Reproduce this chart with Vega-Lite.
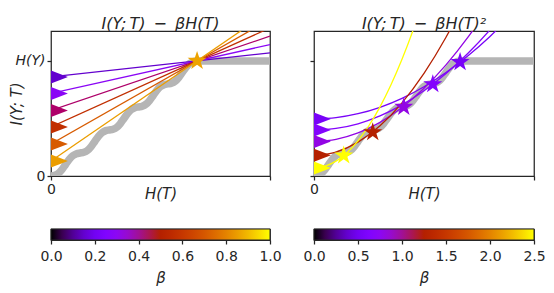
{
  "$schema": "https://vega.github.io/schema/vega-lite/v6.json",
  "padding": {"left": 8, "top": 15, "right": 5, "bottom": 5},
  "spacing": 20,
  "resolve": {"scale": {"color": "independent"}},
  "datasets": {
    "gray": [
      {"h": 0, "i": 0}, {"h": 0.0167, "i": 0.0059}, {"h": 0.0333, "i": 0.0229}, {"h": 0.05, "i": 0.0559},
      {"h": 0.0667, "i": 0.1}, {"h": 0.0833, "i": 0.1441}, {"h": 0.1, "i": 0.1771}, {"h": 0.1167, "i": 0.1941},
      {"h": 0.1333, "i": 0.2}, {"h": 0.15, "i": 0.2059}, {"h": 0.1667, "i": 0.2229}, {"h": 0.1833, "i": 0.2559},
      {"h": 0.2, "i": 0.3}, {"h": 0.2167, "i": 0.3441}, {"h": 0.2333, "i": 0.3771}, {"h": 0.25, "i": 0.3941},
      {"h": 0.2667, "i": 0.4}, {"h": 0.2833, "i": 0.4059}, {"h": 0.3, "i": 0.4229}, {"h": 0.3167, "i": 0.4559},
      {"h": 0.3333, "i": 0.5}, {"h": 0.35, "i": 0.5441}, {"h": 0.3667, "i": 0.5771}, {"h": 0.3833, "i": 0.5941},
      {"h": 0.4, "i": 0.6}, {"h": 0.4167, "i": 0.6059}, {"h": 0.4333, "i": 0.6229}, {"h": 0.45, "i": 0.6559},
      {"h": 0.4667, "i": 0.7}, {"h": 0.4833, "i": 0.7441}, {"h": 0.5, "i": 0.7771}, {"h": 0.5167, "i": 0.7941},
      {"h": 0.5333, "i": 0.8}, {"h": 0.55, "i": 0.8059}, {"h": 0.5667, "i": 0.8229}, {"h": 0.5833, "i": 0.8559},
      {"h": 0.6, "i": 0.9}, {"h": 0.6167, "i": 0.9441}, {"h": 0.6333, "i": 0.9771}, {"h": 0.65, "i": 0.9941},
      {"h": 0.6667, "i": 1.0}, {"h": 0.8, "i": 1.0}, {"h": 1.0, "i": 1.0}
    ],
    "leftLines": [
      {"beta": 0.15, "h": 0, "i": 0.861}, {"beta": 0.15, "h": 1, "i": 1.0695},
      {"beta": 0.29, "h": 0, "i": 0.717}, {"beta": 0.29, "h": 1, "i": 1.1415},
      {"beta": 0.43, "h": 0, "i": 0.570}, {"beta": 0.43, "h": 1, "i": 1.215},
      {"beta": 0.57, "h": 0, "i": 0.426}, {"beta": 0.57, "h": 1, "i": 1.287},
      {"beta": 0.71, "h": 0, "i": 0.278}, {"beta": 0.71, "h": 1, "i": 1.361},
      {"beta": 0.85, "h": 0, "i": 0.130}, {"beta": 0.85, "h": 1, "i": 1.435}
    ],
    "leftTri": [
      {"beta": 0.15, "h": 0, "i": 0.861}, {"beta": 0.29, "h": 0, "i": 0.717}, {"beta": 0.43, "h": 0, "i": 0.570},
      {"beta": 0.57, "h": 0, "i": 0.426}, {"beta": 0.71, "h": 0, "i": 0.278}, {"beta": 0.85, "h": 0, "i": 0.130}
    ],
    "leftStar": [{"beta": 0.86, "h": 0.667, "i": 1.0}],
    "rightCurves": [
      {"beta": 0.55, "h": 0, "i": 0.496}, {"beta": 0.55, "h": 0.1, "i": 0.507}, {"beta": 0.55, "h": 0.2, "i": 0.541},
      {"beta": 0.55, "h": 0.3, "i": 0.597}, {"beta": 0.55, "h": 0.4, "i": 0.675}, {"beta": 0.55, "h": 0.5, "i": 0.776},
      {"beta": 0.55, "h": 0.6, "i": 0.899}, {"beta": 0.55, "h": 0.7, "i": 1.045}, {"beta": 0.55, "h": 0.8, "i": 1.213},
      {"beta": 0.55, "h": 0.9, "i": 1.403},
      {"beta": 0.65, "h": 0, "i": 0.40}, {"beta": 0.65, "h": 0.1, "i": 0.414}, {"beta": 0.65, "h": 0.2, "i": 0.454},
      {"beta": 0.65, "h": 0.3, "i": 0.522}, {"beta": 0.65, "h": 0.4, "i": 0.618}, {"beta": 0.65, "h": 0.5, "i": 0.74},
      {"beta": 0.65, "h": 0.6, "i": 0.89}, {"beta": 0.65, "h": 0.7, "i": 1.066}, {"beta": 0.65, "h": 0.8, "i": 1.27},
      {"beta": 0.65, "h": 0.9, "i": 1.502},
      {"beta": 0.8, "h": 0, "i": 0.30}, {"beta": 0.8, "h": 0.1, "i": 0.3185}, {"beta": 0.8, "h": 0.2, "i": 0.374},
      {"beta": 0.8, "h": 0.3, "i": 0.4665}, {"beta": 0.8, "h": 0.4, "i": 0.596}, {"beta": 0.8, "h": 0.5, "i": 0.7625},
      {"beta": 0.8, "h": 0.6, "i": 0.966}, {"beta": 0.8, "h": 0.7, "i": 1.2065}, {"beta": 0.8, "h": 0.8, "i": 1.484},
      {"beta": 1.25, "h": 0, "i": 0.18}, {"beta": 1.25, "h": 0.1, "i": 0.2085}, {"beta": 1.25, "h": 0.2, "i": 0.294},
      {"beta": 1.25, "h": 0.3, "i": 0.4365}, {"beta": 1.25, "h": 0.4, "i": 0.636}, {"beta": 1.25, "h": 0.5, "i": 0.8925},
      {"beta": 1.25, "h": 0.6, "i": 1.206}, {"beta": 1.25, "h": 0.7, "i": 1.5765},
      {"beta": 2.5, "h": 0, "i": 0.07}, {"beta": 2.5, "h": 0.05, "i": 0.0848}, {"beta": 2.5, "h": 0.1, "i": 0.129},
      {"beta": 2.5, "h": 0.15, "i": 0.2028}, {"beta": 2.5, "h": 0.2, "i": 0.306}, {"beta": 2.5, "h": 0.25, "i": 0.4388},
      {"beta": 2.5, "h": 0.3, "i": 0.601}, {"beta": 2.5, "h": 0.35, "i": 0.7928}, {"beta": 2.5, "h": 0.4, "i": 1.014},
      {"beta": 2.5, "h": 0.45, "i": 1.2648}, {"beta": 2.5, "h": 0.5, "i": 1.545}
    ],
    "rightTri": [
      {"beta": 0.55, "h": 0, "i": 0.496}, {"beta": 0.65, "h": 0, "i": 0.40}, {"beta": 0.8, "h": 0, "i": 0.30},
      {"beta": 1.25, "h": 0, "i": 0.18}, {"beta": 2.5, "h": 0, "i": 0.07}
    ],
    "rightStars": [
      {"beta": 2.5, "h": 0.135, "i": 0.178}, {"beta": 1.25, "h": 0.267, "i": 0.38}, {"beta": 0.8, "h": 0.408, "i": 0.6},
      {"beta": 0.65, "h": 0.54, "i": 0.797}, {"beta": 0.55, "h": 0.664, "i": 0.99}
    ],
    "barLeft": [{"lo": 0, "hi": 1, "b": 0, "t": 1}],
    "barRight": [{"lo": 0, "hi": 2.5, "b": 0, "t": 1}]
  },
  "hconcat": [
    {
      "spacing": 25,
      "vconcat": [
        {
          "width": 219, "height": 145,
          "title": {"text": "I(Y;\u2009T)\u2002−\u2002βH(T)"},
          "layer": [
            {
              "data": {"name": "gray"},
              "mark": {"type": "line", "color": "#b5b5b5", "strokeWidth": 7.5, "clip": true, "interpolate": "monotone"},
              "encoding": {
                "x": {"field": "h", "type": "quantitative", "scale": {"domain": [0, 1], "nice": false},
                  "axis": {"values": [0, 1], "labelExpr": "datum.value == 0 ? '0' : ''", "title": "H(T)", "titleY": 22, "titleBaseline": "alphabetic"}},
                "y": {"field": "i", "type": "quantitative", "scale": {"domain": [0, 1.26], "nice": false},
                  "axis": {"values": [0, 1], "labelExpr": "datum.value == 0 ? '0' : 'H(Y)'",
                    "labelFontStyle": {"condition": {"test": "datum.value == 0", "value": "normal"}, "value": "italic"},
                    "title": "I(Y; T)", "titleX": -30, "titleBaseline": "alphabetic"}}
              }
            },
            {
              "data": {"name": "leftLines"},
              "mark": {"type": "line", "strokeWidth": 1.3, "clip": true},
              "encoding": {
                "x": {"field": "h", "type": "quantitative"},
                "y": {"field": "i", "type": "quantitative"},
                "detail": {"field": "beta", "type": "nominal"},
                "color": {"field": "beta", "type": "quantitative", "legend": null,
                  "scale": {"domain": [0,0.05,0.1,0.15,0.2,0.25,0.3,0.35,0.4,0.45,0.5,0.55,0.6,0.65,0.7,0.75,0.8,0.85,0.9,0.95,1],
                    "range": ["#000000","#39004f","#510096","#6301ce","#7202f3","#8004ff","#8c07f3","#970bce","#a11096","#ab174f","#b42000","#bd2a00","#c63700","#ce4600","#d55700","#dd6c00","#e48300","#eb9d00","#f2ba00","#f9db00","#ffff00"]}}
              }
            },
            {
              "data": {"name": "leftTri"},
              "mark": {"type": "point", "shape": "M0,-0.5L1.3,0L0,0.5Z", "filled": true, "size": 676, "opacity": 1},
              "encoding": {
                "x": {"field": "h", "type": "quantitative"},
                "y": {"field": "i", "type": "quantitative"},
                "color": {"field": "beta", "type": "quantitative", "legend": null}
              }
            },
            {
              "data": {"name": "leftStar"},
              "mark": {"type": "point", "shape": "M0,-1L0.2245,-0.309L0.9511,-0.309L0.3633,0.118L0.5878,0.809L0,0.382L-0.5878,0.809L-0.3633,0.118L-0.9511,-0.309L-0.2245,-0.309Z", "filled": true, "size": 400, "opacity": 1},
              "encoding": {
                "x": {"field": "h", "type": "quantitative"},
                "y": {"field": "i", "type": "quantitative"},
                "color": {"field": "beta", "type": "quantitative", "legend": null}
              }
            }
          ]
        },
        {
          "width": 219, "height": 11,
          "data": {"name": "barLeft"},
          "mark": {"type": "rect", "stroke": "#262626", "strokeWidth": 1,
            "color": {"gradient": "linear", "x1": 0, "y1": 0, "x2": 1, "y2": 0,
              "stops": [
                {"offset": 0, "color": "#000000"}, {"offset": 0.05, "color": "#39004f"}, {"offset": 0.1, "color": "#510096"},
                {"offset": 0.15, "color": "#6301ce"}, {"offset": 0.2, "color": "#7202f3"}, {"offset": 0.25, "color": "#8004ff"},
                {"offset": 0.3, "color": "#8c07f3"}, {"offset": 0.35, "color": "#970bce"}, {"offset": 0.4, "color": "#a11096"},
                {"offset": 0.45, "color": "#ab174f"}, {"offset": 0.5, "color": "#b42000"}, {"offset": 0.55, "color": "#bd2a00"},
                {"offset": 0.6, "color": "#c63700"}, {"offset": 0.65, "color": "#ce4600"}, {"offset": 0.7, "color": "#d55700"},
                {"offset": 0.75, "color": "#dd6c00"}, {"offset": 0.8, "color": "#e48300"}, {"offset": 0.85, "color": "#eb9d00"},
                {"offset": 0.9, "color": "#f2ba00"}, {"offset": 0.95, "color": "#f9db00"}, {"offset": 1, "color": "#ffff00"}
              ]}},
          "encoding": {
            "x": {"field": "lo", "type": "quantitative", "scale": {"domain": [0, 1], "nice": false},
              "axis": {"values": [0, 0.2, 0.4, 0.6, 0.8, 1.0], "format": ".1f", "title": "β", "titleY": 42, "titleBaseline": "alphabetic", "labelPadding": 5}},
            "x2": {"field": "hi"},
            "y": {"field": "b", "type": "quantitative", "scale": {"domain": [0, 1]}, "axis": null},
            "y2": {"field": "t"}
          }
        }
      ]
    },
    {
      "spacing": 25,
      "vconcat": [
        {
          "width": 220, "height": 145,
          "title": {"text": "I(Y;\u2009T)\u2002−\u2002βH(T)²"},
          "layer": [
            {
              "data": {"name": "gray"},
              "mark": {"type": "line", "color": "#b5b5b5", "strokeWidth": 7.5, "clip": true, "interpolate": "monotone"},
              "encoding": {
                "x": {"field": "h", "type": "quantitative", "scale": {"domain": [0, 1], "nice": false},
                  "axis": {"values": [0, 1], "labelExpr": "datum.value == 0 ? '0' : ''", "title": "H(T)", "titleY": 22, "titleBaseline": "alphabetic"}},
                "y": {"field": "i", "type": "quantitative", "scale": {"domain": [0, 1.26], "nice": false},
                  "axis": {"values": [0, 1], "labels": false, "title": null}}
              }
            },
            {
              "data": {"name": "rightCurves"},
              "mark": {"type": "line", "strokeWidth": 1.3, "clip": true, "interpolate": "monotone"},
              "encoding": {
                "x": {"field": "h", "type": "quantitative"},
                "y": {"field": "i", "type": "quantitative"},
                "detail": {"field": "beta", "type": "nominal"},
                "color": {"field": "beta", "type": "quantitative", "legend": null,
                  "scale": {"domain": [0,0.125,0.25,0.375,0.5,0.625,0.75,0.875,1,1.125,1.25,1.375,1.5,1.625,1.75,1.875,2,2.125,2.25,2.375,2.5],
                    "range": ["#000000","#39004f","#510096","#6301ce","#7202f3","#8004ff","#8c07f3","#970bce","#a11096","#ab174f","#b42000","#bd2a00","#c63700","#ce4600","#d55700","#dd6c00","#e48300","#eb9d00","#f2ba00","#f9db00","#ffff00"]}}
              }
            },
            {
              "data": {"name": "rightTri"},
              "mark": {"type": "point", "shape": "M0,-0.5L1.3,0L0,0.5Z", "filled": true, "size": 676, "opacity": 1},
              "encoding": {
                "x": {"field": "h", "type": "quantitative"},
                "y": {"field": "i", "type": "quantitative"},
                "color": {"field": "beta", "type": "quantitative", "legend": null}
              }
            },
            {
              "data": {"name": "rightStars"},
              "mark": {"type": "point", "shape": "M0,-1L0.2245,-0.309L0.9511,-0.309L0.3633,0.118L0.5878,0.809L0,0.382L-0.5878,0.809L-0.3633,0.118L-0.9511,-0.309L-0.2245,-0.309Z", "filled": true, "size": 400, "opacity": 1},
              "encoding": {
                "x": {"field": "h", "type": "quantitative"},
                "y": {"field": "i", "type": "quantitative"},
                "color": {"field": "beta", "type": "quantitative", "legend": null}
              }
            }
          ]
        },
        {
          "width": 220, "height": 11,
          "data": {"name": "barRight"},
          "mark": {"type": "rect", "stroke": "#262626", "strokeWidth": 1,
            "color": {"gradient": "linear", "x1": 0, "y1": 0, "x2": 1, "y2": 0,
              "stops": [
                {"offset": 0, "color": "#000000"}, {"offset": 0.05, "color": "#39004f"}, {"offset": 0.1, "color": "#510096"},
                {"offset": 0.15, "color": "#6301ce"}, {"offset": 0.2, "color": "#7202f3"}, {"offset": 0.25, "color": "#8004ff"},
                {"offset": 0.3, "color": "#8c07f3"}, {"offset": 0.35, "color": "#970bce"}, {"offset": 0.4, "color": "#a11096"},
                {"offset": 0.45, "color": "#ab174f"}, {"offset": 0.5, "color": "#b42000"}, {"offset": 0.55, "color": "#bd2a00"},
                {"offset": 0.6, "color": "#c63700"}, {"offset": 0.65, "color": "#ce4600"}, {"offset": 0.7, "color": "#d55700"},
                {"offset": 0.75, "color": "#dd6c00"}, {"offset": 0.8, "color": "#e48300"}, {"offset": 0.85, "color": "#eb9d00"},
                {"offset": 0.9, "color": "#f2ba00"}, {"offset": 0.95, "color": "#f9db00"}, {"offset": 1, "color": "#ffff00"}
              ]}},
          "encoding": {
            "x": {"field": "lo", "type": "quantitative", "scale": {"domain": [0, 2.5], "nice": false},
              "axis": {"values": [0, 0.5, 1.0, 1.5, 2.0, 2.5], "format": ".1f", "title": "β", "titleY": 42, "titleBaseline": "alphabetic", "labelPadding": 5}},
            "x2": {"field": "hi"},
            "y": {"field": "b", "type": "quantitative", "scale": {"domain": [0, 1]}, "axis": null},
            "y2": {"field": "t"}
          }
        }
      ]
    }
  ],
  "config": {
    "font": "DejaVu Sans",
    "view": {"stroke": "#262626", "strokeWidth": 1.25},
    "axis": {"grid": false, "domain": false, "tickColor": "#262626", "tickSize": 4, "tickWidth": 1.25,
      "labelColor": "#262626", "labelFontSize": 14, "labelFont": "DejaVu Sans", "labelPadding": 2,
      "labelFlush": false, "labelOverlap": false,
      "titleFont": "DejaVu Sans", "titleFontSize": 15, "titleFontWeight": "normal", "titleFontStyle": "italic", "titleColor": "#262626"},
    "title": {"font": "DejaVu Sans", "fontSize": 16, "fontWeight": "normal", "fontStyle": "italic", "color": "#262626", "offset": -1}
  }
}
